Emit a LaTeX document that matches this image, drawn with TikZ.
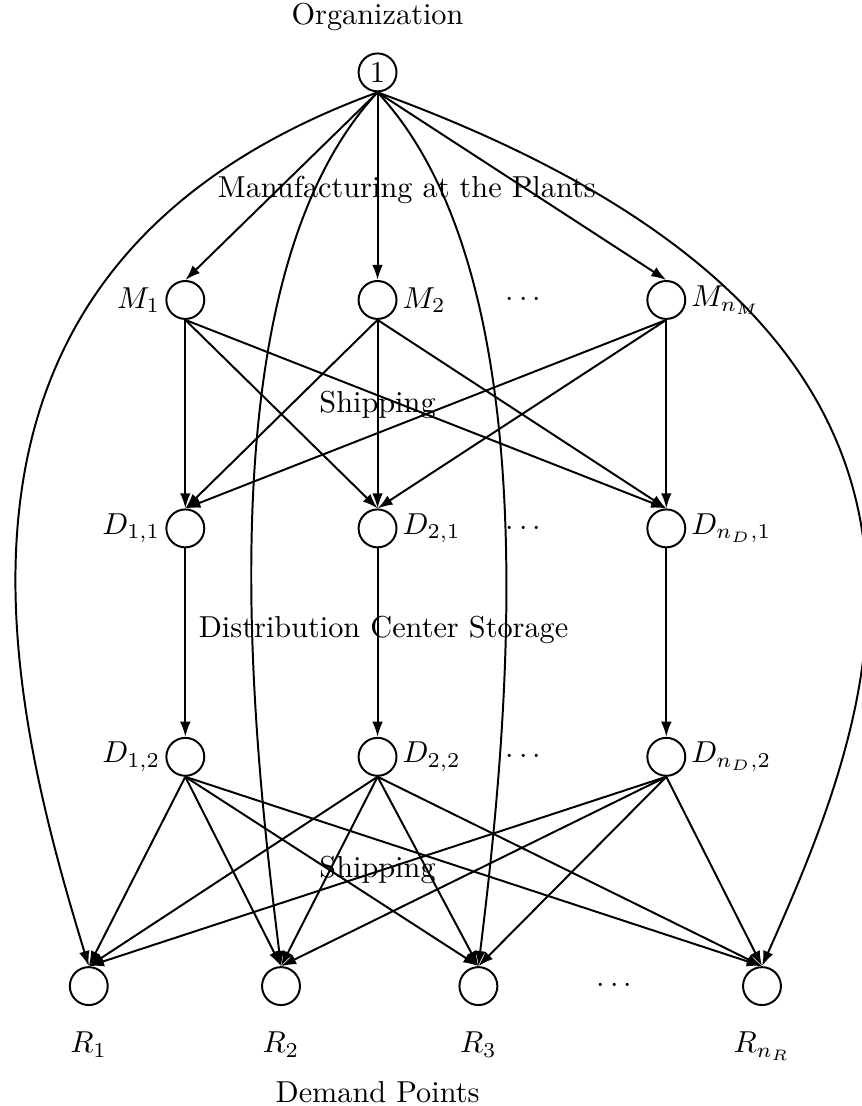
\documentclass[tikz,border=0pt]{standalone}
\usepackage{amsmath}
\usepackage{amssymb}
\usetikzlibrary{arrows.meta}

\begin{document}
\begin{tikzpicture}[scale=1,
	nd/.style={circle, draw, line width=0.65pt, minimum size=0.44cm, inner sep=0pt},
	lb/.style={inner sep=1.5pt},
	arr/.style={-{Latex[length=5pt,width=3.5pt]}, line width=0.65pt}]
	\useasboundingbox (0,0) rectangle (10,-12.831);
	\def\xa{2.15}
	\def\xb{4.38}
	\def\xc{7.73}
	\node (org) at (\xb,-0.20) {Organization};
	\node[nd] (o) at (\xb,-0.84) {1};
	\node (manu) at (4.72,-2.20) {Manufacturing at the Plants};
	\node[nd, label={[lb]left:$M_1$}] (m1) at (\xa,-3.48) {};
	\node[nd, label={[lb]right:$M_2$}] (m2) at (\xb,-3.48) {};
	\node (mdots) at (6.10,-3.48) {$\cdots$};
	\node[nd, label={[lb]right:$M_{n_M}$}] (mn) at (\xc,-3.48) {};
	\node (ship) at (\xb,-4.70) {Shipping};
	\node[nd, label={[lb]left:$D_{1,1}$}] (d11) at (\xa,-6.13) {};
	\node[nd, label={[lb]right:$D_{2,1}$}] (d21) at (\xb,-6.13) {};
	\node (ddots) at (6.10,-6.13) {$\cdots$};
	\node[nd, label={[lb]right:$D_{n_D,1}$}] (dn1) at (\xc,-6.13) {};
	\node (stor) at (4.45,-7.31) {Distribution Center Storage};
	\node[nd, label={[lb]left:$D_{1,2}$}] (d12) at (\xa,-8.78) {};
	\node[nd, label={[lb]right:$D_{2,2}$}] (d22) at (\xb,-8.78) {};
	\node (dddots) at (6.10,-8.78) {$\cdots$};
	\node[nd, label={[lb]right:$D_{n_D,2}$}] (dn2) at (\xc,-8.78) {};
	\node (shipb) at (\xb,-10.09) {Shipping};
	\node[nd, label={[label distance=0.18cm]below:$R_1$}] (r1) at (1.03,-11.44) {};
	\node[nd, label={[label distance=0.18cm]below:$R_2$}] (r2) at (3.26,-11.44) {};
	\node[nd, label={[label distance=0.18cm]below:$R_3$}] (r3) at (5.55,-11.44) {};
	\node (rdots) at (7.16,-11.44) {$\cdots$};
	\node[nd, label={[label distance=0.18cm]below:$R_{n_R}$}] (rn) at (8.84,-11.44) {};
	\node (dem) at (\xb,-12.67) {Demand Points};

	\draw[arr] (o.south) -- (m1.north);
	\draw[arr] (o.south) -- (m2.north);
	\draw[arr] (o.south) -- (mn.north);
	\draw[arr] (o.south) .. controls +(200:5.89) and +(107:3.37) .. (r1.north);
	\draw[arr] (o.south) .. controls +(227:3.04) and +(97:2.52) .. (r2.north);
	\draw[arr] (o.south) .. controls +(313:3.04) and +(83:2.52) .. (r3.north);
	\draw[arr] (o.south) .. controls +(340:8.05) and +(66:3.39) .. (rn.north);

	\draw[arr] (m1.south) -- (d11.north);
	\draw[arr] (m1.south) -- (d21.north);
	\draw[arr] (m1.south) -- (dn1.north);
	\draw[arr] (m2.south) -- (d11.north);
	\draw[arr] (m2.south) -- (d21.north);
	\draw[arr] (m2.south) -- (dn1.north);
	\draw[arr] (mn.south) -- (d11.north);
	\draw[arr] (mn.south) -- (d21.north);
	\draw[arr] (mn.south) -- (dn1.north);

	\draw[arr] (d11.south) -- (d12.north);
	\draw[arr] (d21.south) -- (d22.north);
	\draw[arr] (dn1.south) -- (dn2.north);

	\draw[arr] (d12.south) -- (r1.north);
	\draw[arr] (d12.south) -- (r2.north);
	\draw[arr] (d12.south) -- (r3.north);
	\draw[arr] (d12.south) -- (rn.north);
	\draw[arr] (d22.south) -- (r1.north);
	\draw[arr] (d22.south) -- (r2.north);
	\draw[arr] (d22.south) -- (r3.north);
	\draw[arr] (d22.south) -- (rn.north);
	\draw[arr] (dn2.south) -- (r1.north);
	\draw[arr] (dn2.south) -- (r2.north);
	\draw[arr] (dn2.south) -- (r3.north);
	\draw[arr] (dn2.south) -- (rn.north);
\end{tikzpicture}
\end{document}
